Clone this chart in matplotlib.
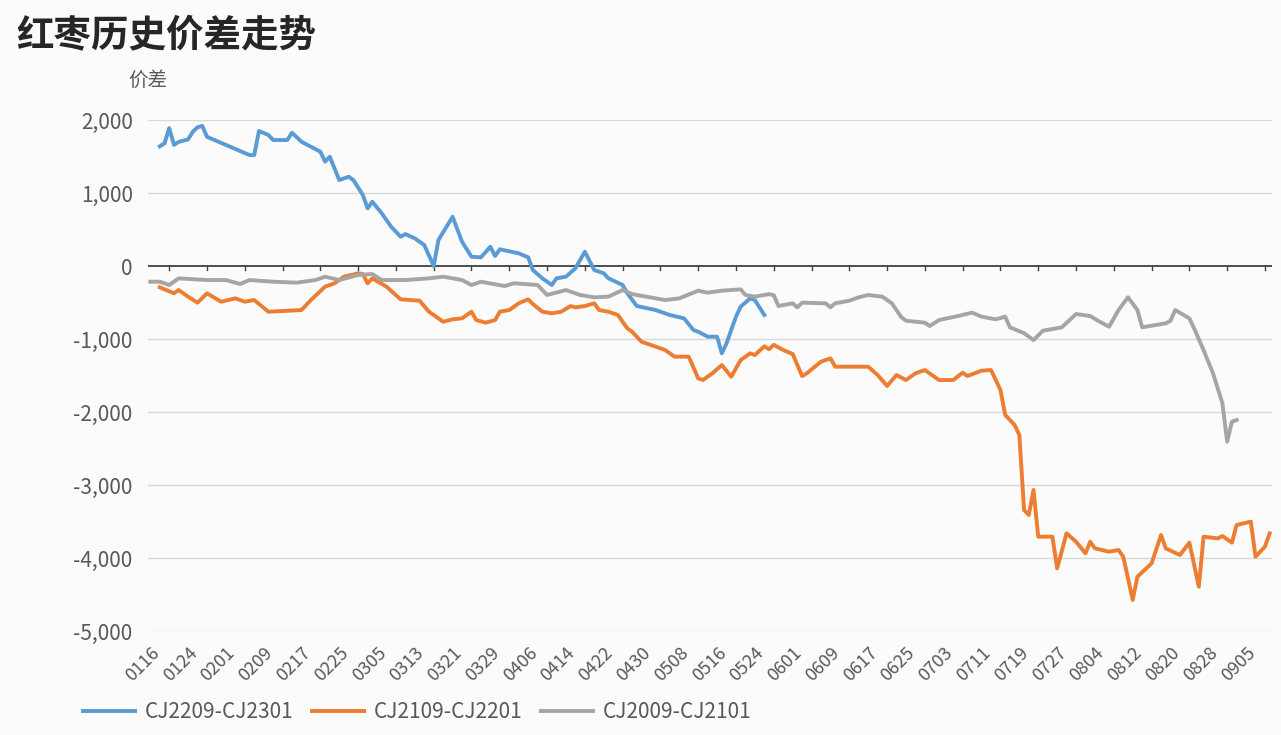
import matplotlib
matplotlib.use("Agg")
import matplotlib.pyplot as plt
from matplotlib.ticker import FuncFormatter, FixedLocator
import pandas as pd

plt.rcParams['font.family'] = ['Noto Sans CJK SC', 'DejaVu Sans']

title = "红枣历史价差走势"
ylabel = "价差"
start_md, end_md = "0116", "0910"

# CJ2209-CJ2301
blue_dates = ["0118","0119","0120","0121","0122","0124","0125","0126","0127","0128",
              "0206","0207","0208","0210","0211","0214","0215","0217","0219","0221",
              "0222","0223","0225","0227","0228","0302","0303","0304","0306","0308",
              "0310","0311","0313","0315","0317","0318","0321","0323","0325","0327",
              "0329","0330","0331","0404","0406","0407","0409","0411","0412","0414",
              "0416","0418","0420","0422","0423","0426","0427","0429","0503","0506",
              "0509","0511","0512","0514","0516","0517","0518","0520","0521","0523",
              "0524","0526"]
blue_vals = [1640,1680,1890,1660,1700,1735,1840,1900,1920,1770,
             1520,1520,1850,1795,1726,1726,1826,1703,1634,1566,
             1430,1497,1178,1223,1178,973,790,881,722,538,
             401,438,379,288,0,356,675,333,127,119,
             264,137,229,174,119,-55,-169,-260,-169,-146,
             -32,196,-55,-100,-169,-260,-374,-548,-603,-671,
             -717,-877,-900,-968,-968,-1196,-1059,-694,-557,-443,
             -466,-671]

# CJ2109-CJ2201
orange_dates = ["0118","0121","0122","0124","0126","0128","0131","0203","0205","0207",
                "0210","0217","0219","0222","0224","0226","0301","0302","0303","0304",
                "0307","0310","0314","0316","0319","0321","0323","0325","0326","0328",
                "0330","0331","0402","0404","0406","0407","0409","0411","0413","0415",
                "0416","0418","0420","0421","0423","0425","0427","0428","0430","0502",
                "0505","0507","0510","0512","0513","0515","0517","0519","0521","0523",
                "0524","0526","0527","0528","0530","0601","0603","0604","0607","0609",
                "0610","0617","0619","0621","0623","0625","0627","0629","0702","0705",
                "0707","0708","0711","0713","0714","0715","0716","0718","0719","0720",
                "0721","0722","0723","0726","0727","0729","0731","0802","0803","0804",
                "0807","0809","0810","0812","0813","0816","0818","0819","0822","0824",
                "0826","0827","0830","0831","0902","0903","0906","0907","0909","0910"]
orange_vals = [-292,-374,-329,-420,-502,-374,-489,-443,-489,-466,
               -626,-603,-466,-283,-237,-146,-100,-110,-237,-169,
               -283,-456,-475,-626,-763,-730,-717,-626,-740,-776,
               -740,-626,-603,-511,-456,-521,-626,-648,-626,-548,
               -566,-548,-511,-603,-626,-671,-854,-900,-1037,-1082,
               -1151,-1242,-1242,-1539,-1562,-1470,-1356,-1516,-1288,-1196,
               -1219,-1100,-1140,-1080,-1151,-1205,-1507,-1470,-1311,-1265,
               -1379,-1379,-1493,-1644,-1493,-1562,-1470,-1425,-1562,-1562,
               -1461,-1507,-1434,-1425,-1560,-1699,-2040,-2178,-2315,-3342,
               -3411,-3068,-3708,-3708,-4141,-3662,-3777,-3936,-3777,-3868,
               -3914,-3890,-3982,-4575,-4256,-4073,-3685,-3868,-3959,-3790,
               -4393,-3708,-3731,-3699,-3790,-3548,-3502,-3982,-3845,-3662]

# CJ2009-CJ2101
gray_dates = ["0116","0118","0120","0122","0128","0201","0204","0206","0211","0216",
              "0220","0222","0225","0301","0304","0306","0311","0316","0319","0323",
              "0325","0327","0401","0403","0408","0410","0414","0417","0420","0423",
              "0426","0428","0501","0505","0508","0512","0514","0517","0521","0522",
              "0524","0527","0528","0529","0601","0602","0603","0608","0609","0610",
              "0613","0615","0617","0620","0622","0624","0625","0629","0630","0702",
              "0706","0709","0711","0714","0716","0717","0720","0722","0724","0728",
              "0731","0803","0805","0807","0809","0811","0813","0814","0819","0820",
              "0821","0824","0825","0827","0829","0831","0901","0902","0903"]
gray_vals = [-215,-215,-260,-169,-192,-192,-247,-192,-215,-228,
             -192,-146,-192,-123,-110,-192,-192,-169,-146,-192,
             -260,-215,-274,-237,-260,-397,-329,-397,-429,-420,
             -329,-384,-420,-466,-443,-338,-365,-338,-320,-397,
             -420,-385,-400,-548,-511,-566,-502,-511,-566,-511,
             -475,-429,-397,-420,-511,-700,-750,-776,-822,-740,
             -685,-639,-694,-730,-694,-840,-920,-1014,-886,-840,
             -658,-685,-763,-831,-603,-429,-603,-840,-785,-750,
             -603,-717,-854,-1151,-1470,-1881,-2407,-2132,-2110]

series = [("CJ2209-CJ2301", blue_dates, blue_vals, "#5B9BD5"),
          ("CJ2109-CJ2201", orange_dates, orange_vals, "#ED7D31"),
          ("CJ2009-CJ2101", gray_dates, gray_vals, "#A5A5A5")]

yticks = [2000, 1000, 0, -1000, -2000, -3000, -4000, -5000]

base = pd.Timestamp("2021-" + start_md[:2] + "-" + start_md[2:])
def idx(md):
    return (pd.Timestamp("2021-" + md[:2] + "-" + md[2:]) - base).days

n_days = idx(end_md) + 1
all_days = pd.date_range(base, periods=n_days, freq="D")
tick_pos = list(range(0, n_days, 8))
tick_lab = [all_days[i].strftime("%m%d") for i in tick_pos]

bg = "#fbfbfb"
fig = plt.figure(figsize=(12.81, 7.35), dpi=100, facecolor=bg)
ax = fig.add_axes([0.1155, 0.1415, 0.8775, 0.6952], facecolor=bg)

for yt in yticks:
    if yt != 0:
        ax.axhline(yt, color="#d9d9d9", lw=1.0, zorder=1)
ax.axhline(0, color="#404040", lw=1.3, zorder=2)
# tick marks on the zero axis
for p in range(4, n_days, 8):
    ax.plot([p, p], [0, -55], color="#404040", lw=1.0, zorder=2)

for name, d, v, c in series:
    ax.plot([idx(m) for m in d], v, color=c, lw=2.8, label=name, zorder=3,
            solid_joinstyle="round")

ax.set_xlim(-0.5, n_days - 0.5)
ax.set_ylim(-5000, 2000)
ax.yaxis.set_major_locator(FixedLocator(yticks))
ax.yaxis.set_major_formatter(FuncFormatter(lambda v, p: f"{int(v):,}"))
ax.set_xticks(tick_pos)
ax.set_xticklabels(tick_lab, rotation=45, ha="right", va="top",
                   rotation_mode="anchor", fontsize=13, color="#595959")
ax.tick_params(axis="x", length=0, pad=9)
ax.tick_params(axis="y", length=0, pad=11, labelsize=15, labelcolor="#595959")
for s in ax.spines.values():
    s.set_visible(False)

fig.text(0.013, 0.952, title, fontsize=27, fontweight="bold", color="#262626",
         ha="left", va="center")
fig.text(0.1, 0.891, ylabel, fontsize=14, color="#595959", ha="left", va="center")

fig.legend(loc="center left", bbox_to_anchor=(0.065, 0.031), ncol=3, frameon=False,
           fontsize=15, handlelength=2.5, columnspacing=0.9, handletextpad=0.45,
           labelcolor="#595959", borderaxespad=0, borderpad=0)

fig.savefig("out.png", dpi=100, facecolor=bg)
